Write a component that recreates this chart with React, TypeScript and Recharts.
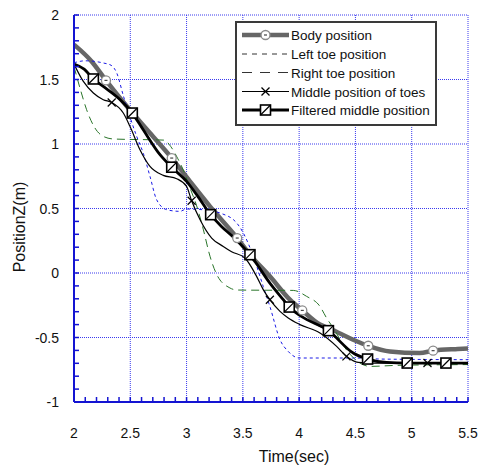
import React from 'react';
import { LineChart, Line, XAxis, YAxis, CartesianGrid, Legend } from 'recharts';

// ---- data (time in sec, position Z in m) ----
const bodyTime = [2.0, 2.157, 2.284, 2.482, 2.675, 2.868, 3.03, 3.208, 3.45, 3.563, 3.74, 3.918, 4.028, 4.185, 4.27, 4.48, 4.614, 4.806, 5.07, 5.19, 5.41, 5.5];
const bodyPos = [1.77, 1.64, 1.493, 1.279, 1.085, 0.891, 0.71, 0.516, 0.271, 0.142, -0.026, -0.207, -0.29, -0.4, -0.43, -0.517, -0.564, -0.608, -0.62, -0.602, -0.589, -0.585];
const bodyMarkerIdx = [2, 5, 8, 12, 16, 19];

const leftTime = [2.0, 2.1, 2.26, 2.33, 2.38, 2.44, 2.557, 2.615, 2.675, 2.734, 2.823, 2.94, 3.0, 3.15, 3.297, 3.445, 3.504, 3.593, 3.681, 3.74, 3.83, 3.903, 4.0, 4.5, 4.72, 5.5];
const leftPos = [1.63, 1.645, 1.628, 1.61, 1.55, 1.369, 1.059, 0.93, 0.749, 0.568, 0.491, 0.478, 0.496, 0.49, 0.465, 0.388, 0.31, 0.129, -0.104, -0.259, -0.517, -0.608, -0.659, -0.659, -0.667, -0.672];

const rightTime = [2.0, 2.053, 2.112, 2.186, 2.26, 2.35, 2.8, 2.86, 2.92, 2.97, 3.03, 3.09, 3.148, 3.208, 3.267, 3.385, 3.45, 3.948, 4.066, 4.185, 4.244, 4.303, 4.42, 4.54, 4.63, 4.866, 5.5];
const rightPos = [1.6, 1.434, 1.266, 1.124, 1.059, 1.039, 1.03, 0.98, 0.89, 0.8, 0.66, 0.52, 0.34, 0.13, -0.01, -0.116, -0.132, -0.135, -0.181, -0.259, -0.349, -0.426, -0.595, -0.698, -0.724, -0.716, -0.71];

const midTime = [2.0, 2.083, 2.172, 2.26, 2.335, 2.438, 2.497, 2.586, 2.675, 2.793, 2.912, 3.0, 3.045, 3.12, 3.223, 3.326, 3.4, 3.518, 3.622, 3.681, 3.74, 3.83, 3.903, 4.007, 4.185, 4.333, 4.42, 4.525, 4.65, 5.14, 5.5];
const midPos = [1.62, 1.485, 1.395, 1.343, 1.322, 1.24, 1.137, 0.956, 0.826, 0.757, 0.731, 0.671, 0.56, 0.413, 0.271, 0.206, 0.165, 0.116, -0.026, -0.129, -0.207, -0.298, -0.349, -0.4, -0.465, -0.569, -0.646, -0.693, -0.698, -0.698, -0.698];
const midMarkerIdx = [4, 12, 20, 26, 29];

const filtTime = [2.0, 2.09, 2.172, 2.26, 2.41, 2.518, 2.615, 2.764, 2.868, 3.0, 3.1, 3.214, 3.31, 3.4, 3.563, 3.74, 3.859, 3.912, 4.02, 4.26, 4.48, 4.608, 4.777, 4.96, 5.304, 5.5];
const filtPos = [1.62, 1.58, 1.504, 1.446, 1.343, 1.24, 1.11, 0.917, 0.82, 0.71, 0.594, 0.452, 0.361, 0.29, 0.142, -0.078, -0.207, -0.264, -0.336, -0.447, -0.62, -0.667, -0.693, -0.698, -0.698, -0.698];
const filtMarkerIdx = [2, 5, 8, 11, 14, 17, 19, 21, 23, 24];

const seriesNames = ['Body position', 'Left toe position', 'Right toe position', 'Middle position of toes', 'Filtered middle position'];

const xMajorTicks = [2, 2.5, 3, 3.5, 4, 4.5, 5, 5.5];
const yMajorTicks = [-1, -0.5, 0, 0.5, 1, 1.5, 2];
const xAllTicks = Array.from({ length: 36 }, (_, i) => Math.round((2 + i * 0.1) * 10) / 10);
const yAllTicks = Array.from({ length: 31 }, (_, i) => Math.round((-1 + i * 0.1) * 10) / 10);

const toData = (t: number[], v: number[]) => t.map((tt, i) => ({ t: tt, v: v[i] }));
const bodyData = toData(bodyTime, bodyPos);
const leftData = toData(leftTime, leftPos);
const rightData = toData(rightTime, rightPos);
const midData = toData(midTime, midPos);
const filtData = toData(filtTime, filtPos);

// ---- styles ----
const FONT = '"Liberation Sans", Arial, Helvetica, sans-serif';
const AXIS_BLUE = '#1414d2';
const GRID_BLUE = '#3a3aee';
const BODY_GRAY = '#666666';
const LEFT_BLUE = '#1a1ae6';
const RIGHT_GREEN = '#2a752a';

const isMajor = (v: number) => Math.abs(v * 2 - Math.round(v * 2)) < 1e-6;
const fmt = (v: number) => String(Math.round(v * 10) / 10);

const XTick = (props: any) => {
  const { x, y, payload } = props;
  const v = payload.value as number;
  return (
    <g>
      <line x1={x} x2={x} y1={y} y2={y - 5} stroke={AXIS_BLUE} strokeWidth={1.5} />
      {isMajor(v) && (
        <text x={x} y={y + 36} textAnchor="middle" fontFamily={FONT} fontSize={14} fill="#111">
          {fmt(v)}
        </text>
      )}
    </g>
  );
};

const YTick = (props: any) => {
  const { x, y, payload } = props;
  const v = payload.value as number;
  return (
    <g>
      <line x1={x} x2={x + 5} y1={y} y2={y} stroke={AXIS_BLUE} strokeWidth={1.5} />
      {isMajor(v) && (
        <text x={x - 15} y={y + 5} textAnchor="end" fontFamily={FONT} fontSize={14} fill="#111">
          {fmt(v)}
        </text>
      )}
    </g>
  );
};

const CircleMark = ({ cx, cy }: { cx: number; cy: number }) => (
  <g>
    <circle cx={cx} cy={cy} r={4.5} fill="#fff" stroke="#8a8a8a" strokeWidth={1.3} />
    <line x1={cx - 1.5} x2={cx + 1.5} y1={cy} y2={cy} stroke="#444" strokeWidth={1.2} />
  </g>
);
const SquareMark = ({ cx, cy }: { cx: number; cy: number }) => (
  <g>
    <rect x={cx - 5} y={cy - 5} width={10} height={10} fill="#fff" stroke="#000" strokeWidth={1.6} />
    <line x1={cx - 5} y1={cy + 5} x2={cx + 5} y2={cy - 5} stroke="#000" strokeWidth={1.2} />
  </g>
);
const CrossMark = ({ cx, cy }: { cx: number; cy: number }) => (
  <g stroke="#000" strokeWidth={1.2}>
    <line x1={cx - 4} y1={cy - 4} x2={cx + 4} y2={cy + 4} />
    <line x1={cx - 4} y1={cy + 4} x2={cx + 4} y2={cy - 4} />
  </g>
);

const makeDot = (idx: number[], kind: string) => (props: any) => {
  const { cx, cy, index } = props;
  const key = `${kind}-${index}`;
  if (!idx.includes(index) || cx == null || cy == null) return <g key={key} />;
  if (kind === 'body') return <g key={key}><CircleMark cx={cx} cy={cy} /></g>;
  if (kind === 'mid') return <g key={key}><CrossMark cx={cx} cy={cy} /></g>;
  return <g key={key}><SquareMark cx={cx} cy={cy} /></g>;
};

const LegendBox = () => {
  const rows = [14, 33, 51.5, 70.5, 89];
  const x1 = 7;
  const x2 = 54;
  const mx = 30.5;
  return (
    <svg width={203} height={106} style={{ display: 'block' }}>
      <rect x={1} y={1} width={200} height={103} fill="#fff" stroke="#3a3a3a" strokeWidth={2} />
      <line x1={x1} x2={x2} y1={rows[0]} y2={rows[0]} stroke={BODY_GRAY} strokeWidth={4.5} />
      <CircleMark cx={mx} cy={rows[0]} />
      <line x1={x1} x2={x2} y1={rows[1]} y2={rows[1]} stroke="#333" strokeWidth={1} strokeDasharray="5 5" />
      <line x1={x1} x2={x2} y1={rows[2]} y2={rows[2]} stroke="#333" strokeWidth={1} strokeDasharray="10 8" />
      <line x1={x1} x2={x2} y1={rows[3]} y2={rows[3]} stroke="#000" strokeWidth={1.2} />
      <CrossMark cx={mx} cy={rows[3]} />
      <line x1={x1} x2={x2} y1={rows[4]} y2={rows[4]} stroke="#000" strokeWidth={2.8} />
      <SquareMark cx={mx} cy={rows[4]} />
      {seriesNames.map((n, i) => (
        <text key={n} x={56} y={rows[i] + 5} fontFamily={FONT} fontSize={13.5} fill="#111">
          {n}
        </text>
      ))}
    </svg>
  );
};

export default function App() {
  return (
    <div style={{ position: 'absolute', left: 0, top: 0, width: 480, height: 472 }}>
      <LineChart width={480} height={472} margin={{ top: 15, right: 12, left: 0, bottom: 0 }}>
        <CartesianGrid
          stroke={GRID_BLUE}
          strokeDasharray="1 1"
          strokeWidth={1}
          horizontalValues={yMajorTicks}
          verticalValues={xMajorTicks}
        />
        <XAxis
          type="number"
          dataKey="t"
          domain={[2, 5.5]}
          ticks={xAllTicks}
          interval={0}
          allowDataOverflow
          tickSize={0}
          tickMargin={0}
          tickLine={false}
          tick={XTick}
          axisLine={{ stroke: AXIS_BLUE, strokeWidth: 2 }}
          height={70}
          label={{
            value: 'Time(sec)',
            content: () => (
              <text x={294} y={462} textAnchor="middle" fontFamily={FONT} fontSize={16} fill="#111">
                Time(sec)
              </text>
            ),
          }}
        />
        <YAxis
          type="number"
          domain={[-1, 2]}
          ticks={yAllTicks}
          interval={0}
          allowDataOverflow
          tickSize={0}
          tickMargin={0}
          tickLine={false}
          tick={YTick}
          axisLine={{ stroke: AXIS_BLUE, strokeWidth: 2 }}
          width={74}
          label={{
            value: 'PositionZ(m)',
            content: () => (
              <text x={25} y={227} transform="rotate(-90 25 227)" textAnchor="middle" fontFamily={FONT} fontSize={16} fill="#111">
                PositionZ(m)
              </text>
            ),
          }}
        />
        <Line data={bodyData} dataKey="v" name={seriesNames[0]} type="monotone" stroke={BODY_GRAY} strokeWidth={4.5} dot={makeDot(bodyMarkerIdx, 'body')} activeDot={false} isAnimationActive={false} />
        <Line data={leftData} dataKey="v" name={seriesNames[1]} type="monotone" stroke={LEFT_BLUE} strokeWidth={1} strokeDasharray="3 3" dot={false} activeDot={false} isAnimationActive={false} />
        <Line data={rightData} dataKey="v" name={seriesNames[2]} type="monotone" stroke={RIGHT_GREEN} strokeWidth={1} strokeDasharray="8 5" dot={false} activeDot={false} isAnimationActive={false} />
        <Line data={midData} dataKey="v" name={seriesNames[3]} type="monotone" stroke="#000" strokeWidth={1.2} dot={makeDot(midMarkerIdx, 'mid')} activeDot={false} isAnimationActive={false} />
        <Line data={filtData} dataKey="v" name={seriesNames[4]} type="monotone" stroke="#000" strokeWidth={2.8} dot={makeDot(filtMarkerIdx, 'filt')} activeDot={false} isAnimationActive={false} />
        <Legend
          layout="horizontal"
          verticalAlign="middle"
          align="center"
          content={() => <LegendBox />}
          wrapperStyle={{ position: 'absolute', left: 235, top: 21, width: 203, height: 106 }}
        />
      </LineChart>
    </div>
  );
}
